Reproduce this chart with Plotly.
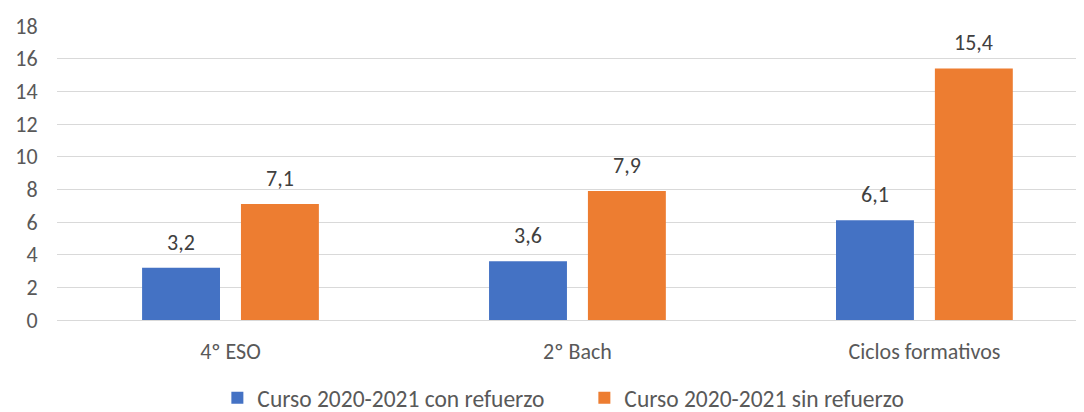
import plotly.graph_objects as go

categories = ["4º ESO", "2º Bach", "Ciclos formativos"]
series_names = ["Curso 2020-2021 con refuerzo", "Curso 2020-2021 sin refuerzo"]
con_refuerzo = [3.2, 3.6, 6.1]
sin_refuerzo = [7.1, 7.9, 15.4]
y_ticks = [0, 2, 4, 6, 8, 10, 12, 14, 16, 18]

FONT = "Calibri, Carlito, Lato, sans-serif"
colors = ["#4472C4", "#ED7D31"]
BARGAP = 0.43
BARGROUPGAP = 0.212

fig = go.Figure()
all_series = [con_refuerzo, sin_refuerzo]
for name, vals, col in zip(series_names, all_series, colors):
    fig.add_trace(go.Bar(
        x=categories, y=vals, name=name,
        marker=dict(color=col, line=dict(width=0)),
    ))

# data labels above bars (offset derived from bar layout)
n = len(all_series)
slot = (1 - BARGAP) / n
for si, vals in enumerate(all_series):
    off = -(1 - BARGAP) / 2 + slot * (si + 0.5)
    for ci, v in enumerate(vals):
        fig.add_annotation(
            x=ci + off, y=v, xref="x", yref="y",
            text=f"{v:.1f}".replace(".", ","),
            showarrow=False, yanchor="bottom", yshift=10,
            font=dict(family=FONT, size=22, color="#404040"),
        )

fig.update_layout(
    width=1076, height=404,
    margin=dict(l=49, r=0, t=18, b=92, autoexpand=False),
    paper_bgcolor="white", plot_bgcolor="white",
    separators=", ",
    barmode="group", bargap=BARGAP, bargroupgap=BARGROUPGAP,
    font=dict(family=FONT, size=22, color="#595959"),
    showlegend=True,
    legend=dict(orientation="h", x=0.5135, xanchor="center", y=-0.265, yanchor="middle",
                font=dict(family=FONT, size=23.5, color="#595959"),
                traceorder="normal", entrywidth=322, entrywidthmode="pixels"),
    xaxis=dict(range=[-0.5, 2.46], showgrid=False, showline=False, zeroline=False,
               ticks="outside", ticklen=12, tickcolor="rgba(0,0,0,0)",
               tickfont=dict(family=FONT, size=22, color="#595959")),
    yaxis=dict(range=[0, 18], tickvals=y_ticks, showgrid=True, gridcolor="#D9D9D9", gridwidth=1.3,
               zeroline=True, zerolinecolor="#D9D9D9", zerolinewidth=1.3, showline=False,
               ticks="outside", ticklen=14, tickcolor="rgba(0,0,0,0)",
               tickfont=dict(family=FONT, size=22, color="#595959")),
)

fig.write_html("out.html")
